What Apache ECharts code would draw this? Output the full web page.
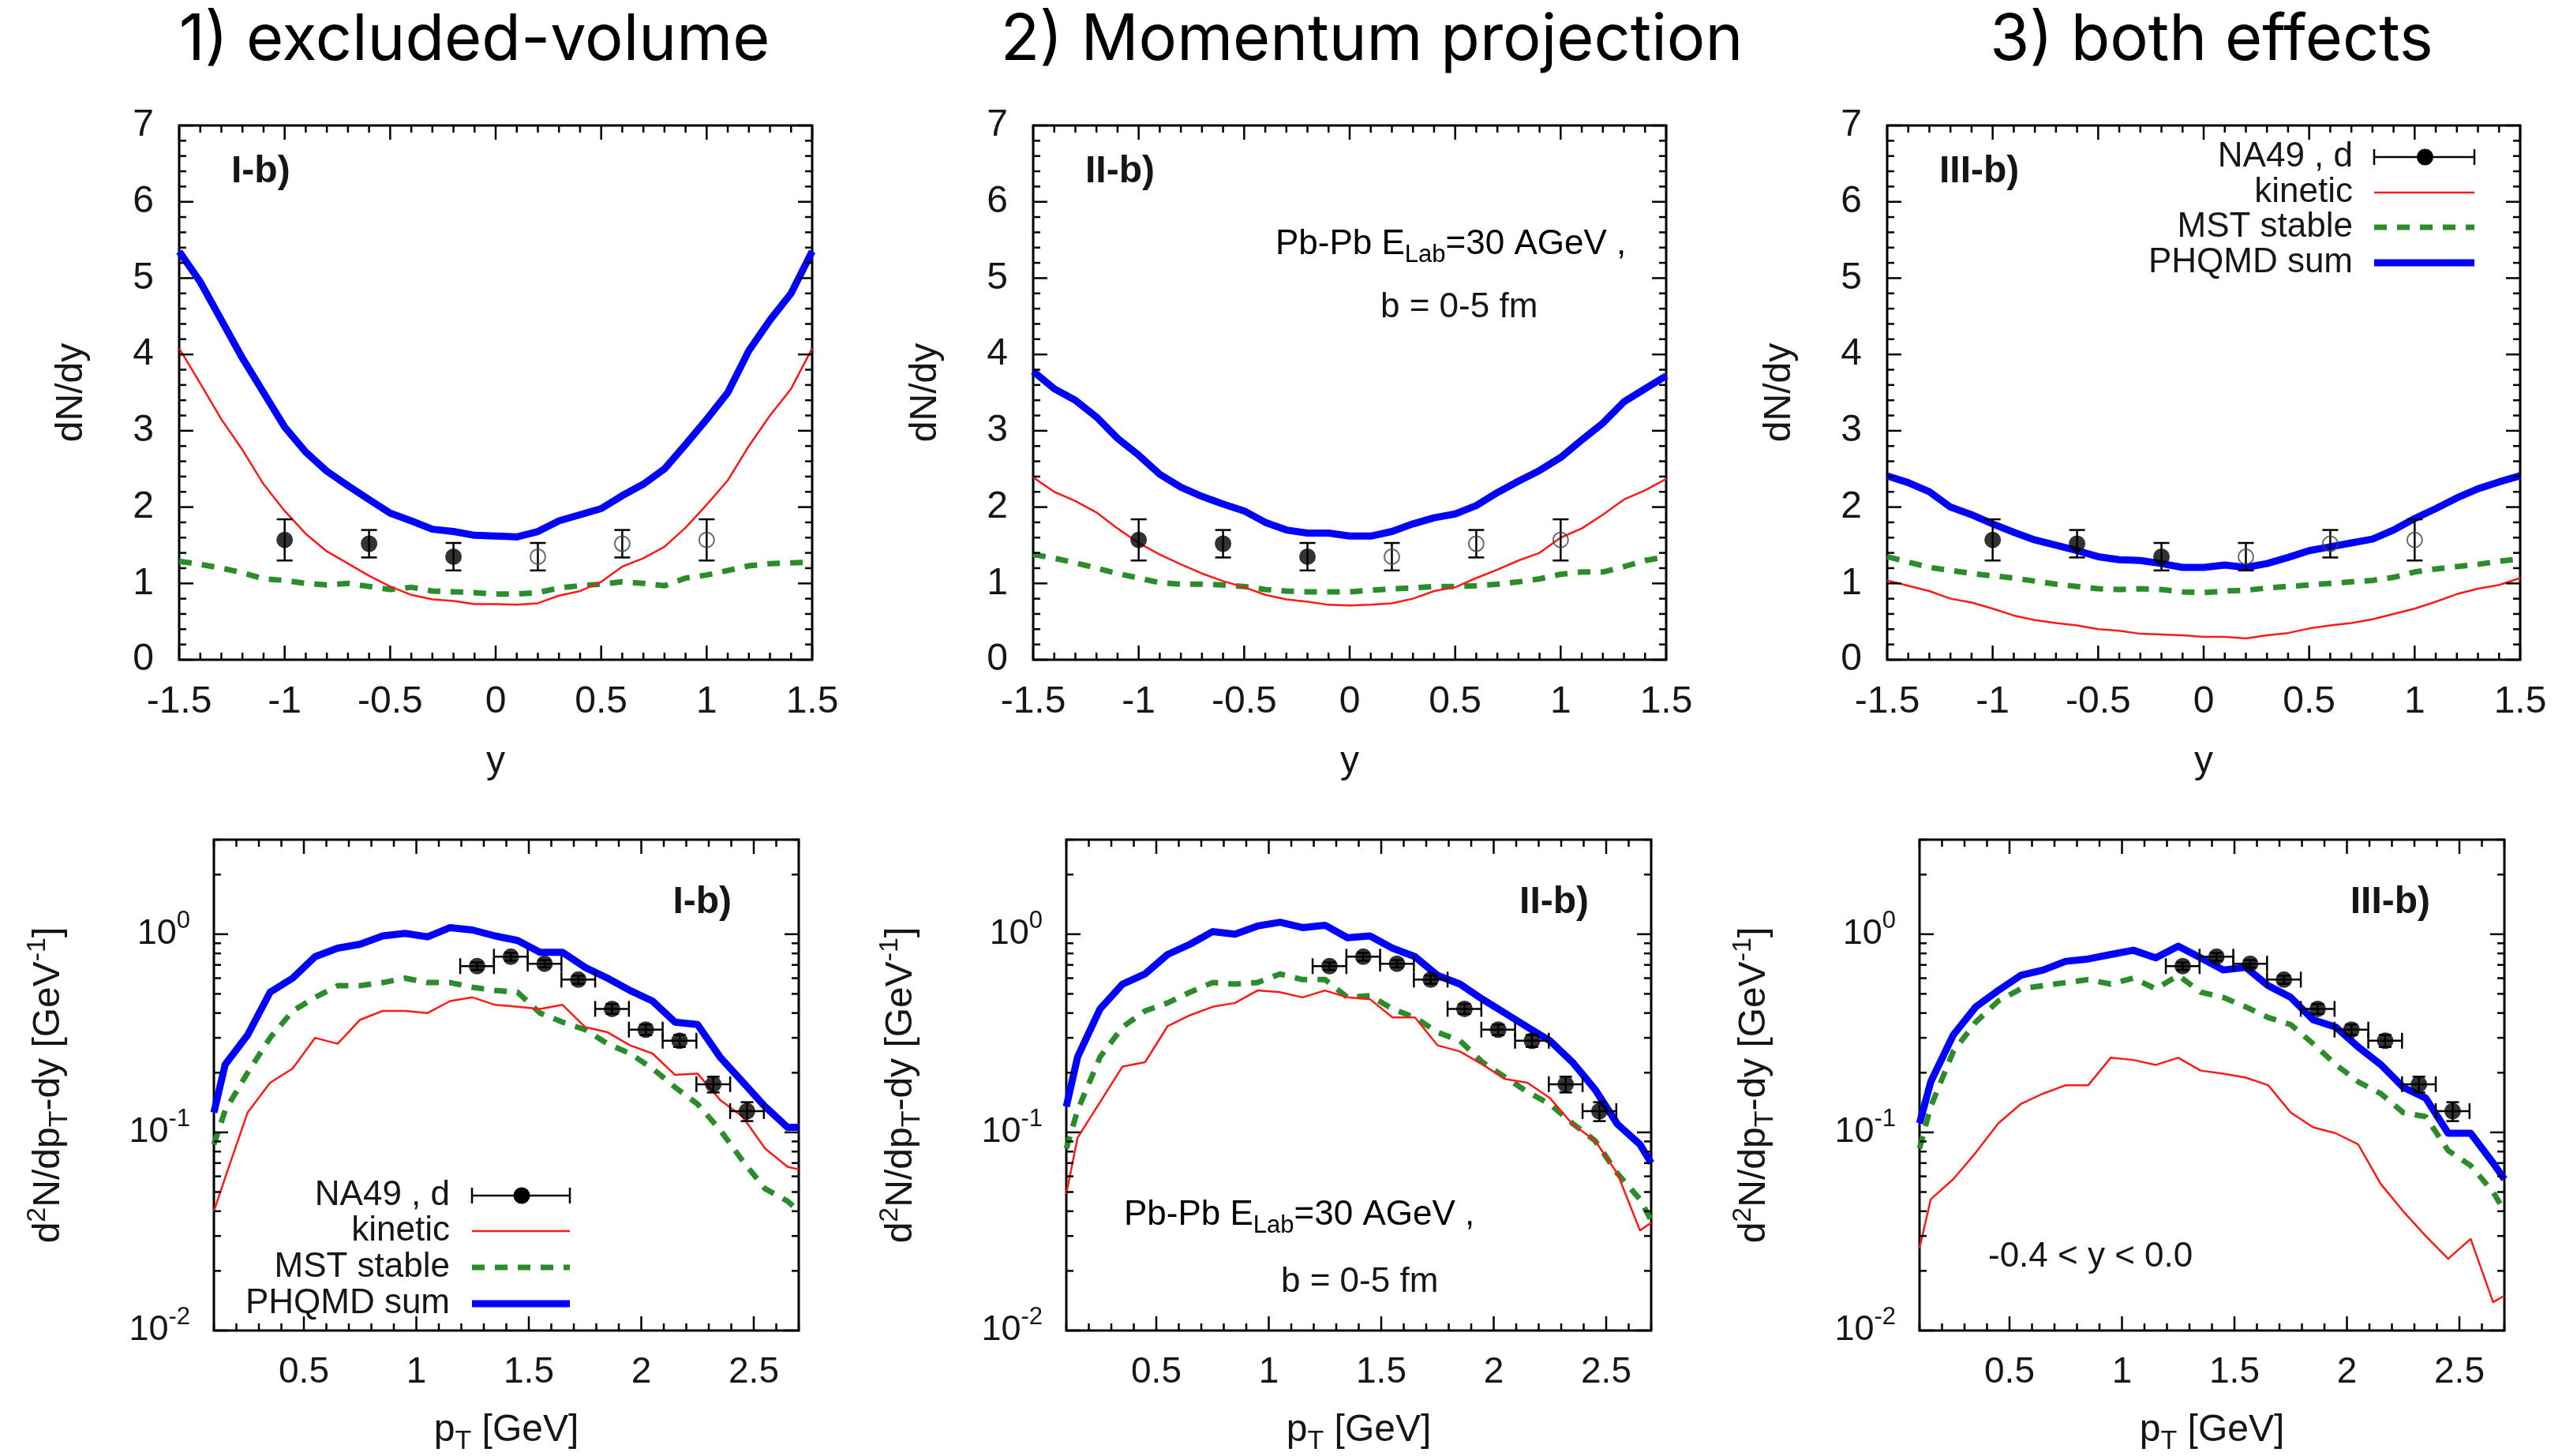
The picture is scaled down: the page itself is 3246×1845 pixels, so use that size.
<!DOCTYPE html>
<html>
<head>
<meta charset="utf-8">
<script src="https://cdn.jsdelivr.net/npm/echarts@6/dist/echarts.min.js"></script>
<style>
html, body { margin: 0; padding: 0; background: #fff; }
#chart { width: 3246px; height: 1845px; }
</style>
</head>
<body>
<div id="chart"></div>
<script>
// ---------- rapidity distributions dN/dy ----------
const rapidity = [-1.5,-1.4,-1.3,-1.2,-1.1,-1.0,-0.9,-0.8,-0.7,-0.6,-0.5,-0.4,-0.3,-0.2,-0.1,0.0,0.1,0.2,0.3,0.4,0.5,0.6,0.7,0.8,0.9,1.0,1.1,1.2,1.3,1.4,1.5];

// I-b) excluded volume
const dndySumI = [5.35,4.95,4.45,3.95,3.5,3.05,2.72,2.47,2.28,2.1,1.92,1.82,1.71,1.68,1.63,1.62,1.61,1.68,1.82,1.9,1.98,2.15,2.3,2.5,2.82,3.15,3.5,4.05,4.45,4.8,5.35];
const dndyKinI = [4.08,3.62,3.15,2.75,2.3,1.95,1.65,1.42,1.26,1.1,0.96,0.85,0.79,0.77,0.73,0.73,0.72,0.74,0.84,0.9,1.02,1.22,1.33,1.48,1.73,2.03,2.35,2.8,3.2,3.55,4.08];
const dndyMstI = [1.29,1.25,1.2,1.14,1.06,1.04,1.0,0.98,1.0,0.96,0.92,0.95,0.9,0.89,0.88,0.86,0.86,0.88,0.94,0.97,0.99,1.02,1.0,0.97,1.07,1.11,1.17,1.23,1.26,1.27,1.28];

// II-b) momentum projection
const dndySumII = [3.78,3.55,3.4,3.18,2.9,2.68,2.43,2.26,2.14,2.04,1.95,1.8,1.7,1.66,1.66,1.62,1.62,1.68,1.78,1.86,1.91,2.02,2.19,2.34,2.48,2.65,2.88,3.1,3.38,3.55,3.72];
const dndyKinII = [2.39,2.2,2.08,1.93,1.72,1.53,1.38,1.25,1.13,1.03,0.95,0.85,0.79,0.76,0.72,0.71,0.72,0.74,0.8,0.9,0.95,1.07,1.18,1.3,1.4,1.6,1.72,1.9,2.1,2.22,2.37];
const dndyMstII = [1.38,1.33,1.27,1.2,1.13,1.07,1.01,0.99,0.99,0.98,0.96,0.92,0.9,0.89,0.89,0.89,0.91,0.93,0.94,0.96,0.96,0.97,0.99,1.02,1.06,1.12,1.15,1.15,1.22,1.3,1.35];

// III-b) both effects
const dndySumIII = [2.41,2.32,2.2,2.0,1.9,1.78,1.67,1.57,1.5,1.43,1.35,1.31,1.3,1.26,1.21,1.21,1.24,1.21,1.26,1.34,1.43,1.48,1.53,1.58,1.7,1.85,1.98,2.12,2.24,2.33,2.41];
const dndyKinIII = [1.04,0.97,0.9,0.8,0.75,0.67,0.58,0.52,0.48,0.45,0.4,0.38,0.34,0.33,0.32,0.3,0.3,0.28,0.32,0.35,0.41,0.45,0.48,0.53,0.6,0.67,0.76,0.86,0.93,0.98,1.07];
const dndyMstIII = [1.35,1.28,1.21,1.17,1.13,1.1,1.07,1.03,0.99,0.96,0.93,0.92,0.93,0.92,0.89,0.88,0.9,0.91,0.94,0.96,0.98,1.0,1.02,1.04,1.08,1.15,1.19,1.22,1.25,1.29,1.32];

// NA49 deuterons: measured (filled) and reflected about y = 0 (open)
const na49Y = [-1.0, -0.6, -0.2];
const na49Dndy = [1.57, 1.52, 1.35];
const na49DndyErr = [0.27, 0.18, 0.18];
const na49YRefl = [0.2, 0.6, 1.0];
const na49DndyRefl = [1.35, 1.52, 1.57];
const na49DndyReflErr = [0.18, 0.18, 0.27];

// ---------- transverse momentum spectra d2N/dpT dy ----------
const pT = [0.1,0.15,0.25,0.35,0.45,0.55,0.65,0.75,0.85,0.95,1.05,1.15,1.25,1.35,1.45,1.55,1.65,1.75,1.85,1.95,2.05,2.15,2.25,2.35,2.45,2.55,2.65,2.7];

const ptSumI = [0.126,0.22,0.31,0.51,0.6,0.77,0.85,0.89,0.98,1.01,0.97,1.08,1.05,0.98,0.93,0.81,0.81,0.68,0.6,0.52,0.46,0.36,0.35,0.24,0.18,0.135,0.106,0.106];
const ptKinI = [0.04,0.059,0.126,0.178,0.21,0.3,0.28,0.37,0.41,0.41,0.4,0.46,0.48,0.44,0.43,0.42,0.44,0.34,0.32,0.275,0.25,0.195,0.198,0.146,0.12,0.083,0.067,0.065];
const ptMstI = [0.087,0.129,0.2,0.3,0.41,0.48,0.55,0.55,0.57,0.6,0.57,0.57,0.54,0.52,0.51,0.4,0.36,0.33,0.28,0.25,0.21,0.169,0.139,0.103,0.072,0.052,0.045,0.04];

const ptSumII = [0.135,0.24,0.42,0.56,0.63,0.79,0.89,1.03,1.0,1.1,1.15,1.08,1.11,0.96,0.98,0.85,0.77,0.62,0.56,0.47,0.4,0.34,0.29,0.226,0.165,0.11,0.087,0.07];
const ptKinII = [0.049,0.094,0.142,0.215,0.226,0.343,0.39,0.43,0.45,0.52,0.51,0.48,0.52,0.48,0.47,0.38,0.38,0.275,0.256,0.22,0.186,0.178,0.149,0.11,0.091,0.062,0.032,0.035];
const ptMstII = [0.083,0.129,0.24,0.34,0.41,0.45,0.51,0.57,0.56,0.57,0.63,0.59,0.59,0.48,0.49,0.42,0.38,0.32,0.29,0.226,0.19,0.16,0.139,0.111,0.091,0.062,0.046,0.036];

const ptSumIII = [0.111,0.18,0.31,0.43,0.52,0.62,0.66,0.73,0.75,0.79,0.83,0.76,0.87,0.76,0.66,0.68,0.55,0.48,0.37,0.34,0.27,0.22,0.169,0.149,0.099,0.099,0.07,0.058];
const ptKinIII = [0.026,0.046,0.058,0.079,0.111,0.139,0.157,0.173,0.173,0.238,0.232,0.219,0.238,0.205,0.198,0.189,0.173,0.126,0.106,0.099,0.087,0.055,0.04,0.03,0.023,0.029,0.0139,0.015];
const ptMstIII = [0.083,0.135,0.256,0.36,0.46,0.53,0.55,0.57,0.59,0.56,0.6,0.53,0.62,0.51,0.48,0.43,0.38,0.35,0.28,0.22,0.18,0.157,0.126,0.12,0.081,0.068,0.05,0.04];

// NA49 deuteron spectrum, -0.4 < y < 0.0
const na49Pt = [1.27, 1.42, 1.57, 1.72, 1.87, 2.02, 2.17, 2.32, 2.47];
const na49PtHalfBin = 0.075;
const na49Spec = [0.69, 0.77, 0.71, 0.59, 0.42, 0.33, 0.29, 0.175, 0.128];
const na49SpecErr = [0.03, 0.035, 0.03, 0.028, 0.024, 0.02, 0.02, 0.016, 0.014];

// ---------- tick labels ----------
const rapidityTickLabels = ['-1.5', '-1', '-0.5', '0', '0.5', '1', '1.5'];
const rapidityTickValues = [-1.5, -1, -0.5, 0, 0.5, 1, 1.5];
const ptTickLabels = ['0.5', '1', '1.5', '2', '2.5'];
const ptTickValues = [0.5, 1, 1.5, 2, 2.5];
const yieldDecades = [-2, -1, 0];

// ---------- styling ----------
const TXT = '#161616';
const FONT = 'Liberation Sans';
const TITLE_FONT = 'Inter';
const C_KIN = '#ff1a1a';
const C_MST = '#2c8c2c';
const C_SUM = '#0000ff';
const MST_DASH = [16, 13];

function rich(size) {
  return {
    m: { fontSize: size, fontFamily: FONT, color: TXT, lineHeight: Math.round(size * 1.3) },
    sub: { fontSize: Math.round(size * 0.7), fontFamily: FONT, color: TXT, verticalAlign: 'bottom', lineHeight: Math.round(size * 0.72) },
    sup: { fontSize: Math.round(size * 0.7), fontFamily: FONT, color: TXT, verticalAlign: 'top', lineHeight: Math.round(size * 0.72) }
  };
}

function zip(xs, ys) { return xs.map((x, i) => [x, ys[i]]); }

const topRects = [[227, 159], [1309, 159], [2391, 159]];
const TOP_W = 802, TOP_H = 677;
const botRects = [[271, 1064], [1351, 1064], [2432, 1064]];
const BOT_W = 741, BOT_H = 626;

const grids = [];
topRects.forEach(r => grids.push({ left: r[0], top: r[1], width: TOP_W, height: TOP_H, show: true, borderColor: '#000', borderWidth: 3, backgroundColor: 'transparent' }));
botRects.forEach(r => grids.push({ left: r[0], top: r[1], width: BOT_W, height: BOT_H, show: true, borderColor: '#000', borderWidth: 3, backgroundColor: 'transparent' }));

const xAxes = [], yAxes = [];
for (let i = 0; i < 3; i++) {
  xAxes.push({
    type: 'value', gridIndex: i, min: -1.5, max: 1.5, interval: 0.5,
    axisLine: { show: false }, axisTick: { show: false }, splitLine: { show: false },
    axisLabel: {
      fontSize: 48, fontFamily: FONT, color: TXT, margin: 30, showMinLabel: true, showMaxLabel: true,
      formatter: v => { const k = rapidityTickValues.findIndex(t => Math.abs(t - v) < 1e-6); return k < 0 ? '' : rapidityTickLabels[k]; }
    },
    name: 'y', nameLocation: 'middle', nameGap: 106,
    nameTextStyle: { fontSize: 48, fontFamily: FONT, color: TXT }
  });
  yAxes.push({
    type: 'value', gridIndex: i, min: 0, max: 7, interval: 1,
    axisLine: { show: false }, axisTick: { show: false }, splitLine: { show: false },
    axisLabel: { fontSize: 48, fontFamily: FONT, color: TXT, margin: 32 },
    name: 'dN/dy', nameLocation: 'middle', nameGap: 112,
    nameTextStyle: { fontSize: 48, fontFamily: FONT, color: TXT }
  });
}
for (let i = 3; i < 6; i++) {
  xAxes.push({
    type: 'value', gridIndex: i, min: 0.1, max: 2.7, interval: 0.1,
    axisLine: { show: false }, axisTick: { show: false }, splitLine: { show: false },
    axisLabel: {
      fontSize: 46, fontFamily: FONT, color: TXT, margin: 30,
      formatter: v => { const k = ptTickValues.findIndex(t => Math.abs(t - v) < 1e-6); return k < 0 ? '' : ptTickLabels[k]; }
    },
    name: '{m|p}{sub|T}{m| [GeV]}', nameLocation: 'middle', nameGap: 96,
    nameTextStyle: { rich: rich(48) }
  });
  yAxes.push({
    type: 'log', logBase: 10, gridIndex: i, min: 0.01, max: 3,
    axisLine: { show: false }, axisTick: { show: false }, splitLine: { show: false },
    axisLabel: {
      margin: 30,
      formatter: v => {
        const e = Math.log10(v), r = Math.round(e);
        if (Math.abs(e - r) > 1e-6 || yieldDecades.indexOf(r) < 0) return '';
        return '{b|10}{s|' + r + '}';
      },
      rich: {
        b: { fontSize: 45, fontFamily: FONT, color: TXT, lineHeight: 64 },
        s: { fontSize: 31, fontFamily: FONT, color: TXT, verticalAlign: 'top', lineHeight: 34 }
      }
    },
    name: '{m|d}{sup|2}{m|N/dp}{sub|T}{m|-dy [GeV}{sup|-1}{m|]}', nameLocation: 'middle', nameGap: 178,
    nameTextStyle: { rich: rich(48) }
  });
}

// inward ticks on all four frame sides, placed through the axis scales
function tickSeries(idx, xTicks, yTicks, xRef, yRef) {
  const data = [];
  xTicks.forEach(t => data.push([t[0], yRef, 0, t[1]]));
  yTicks.forEach(t => data.push([xRef, t[0], 1, t[1]]));
  return {
    type: 'custom', xAxisIndex: idx, yAxisIndex: idx, silent: true, clip: false, z: 6, data,
    renderItem(params, api) {
      const cs = params.coordSys;
      const len = api.value(3) ? 18 : 9;
      const style = { stroke: '#000', lineWidth: 2.5 };
      if (api.value(2) === 0) {
        const x = api.coord([api.value(0), api.value(1)])[0];
        const b = cs.y + cs.height;
        return { type: 'group', children: [
          { type: 'line', shape: { x1: x, y1: b, x2: x, y2: b - len }, style },
          { type: 'line', shape: { x1: x, y1: cs.y, x2: x, y2: cs.y + len }, style }
        ] };
      }
      const y = api.coord([api.value(0), api.value(1)])[1];
      const r = cs.x + cs.width;
      return { type: 'group', children: [
        { type: 'line', shape: { x1: cs.x, y1: y, x2: cs.x + len, y2: y }, style },
        { type: 'line', shape: { x1: r, y1: y, x2: r - len, y2: y }, style }
      ] };
    }
  };
}

const rapTicks = [], dndyTicks = [], ptTicks = [], logTicks = [];
for (let k = -15; k <= 15; k++) rapTicks.push([k / 10, k % 5 === 0 ? 1 : 0]);
for (let k = 0; k <= 35; k++) dndyTicks.push([k / 5, k % 5 === 0 ? 1 : 0]);
for (let k = 1; k <= 27; k++) ptTicks.push([k / 10, k % 5 === 0 ? 1 : 0]);
yieldDecades.forEach(e => { for (let m = 1; m <= 9; m++) { const v = m * Math.pow(10, e); if (v <= 3.0001) logTicks.push([v, m === 1 ? 1 : 0]); } });

function line(idx, xs, ys, color, width, dash, z) {
  return {
    type: 'line', xAxisIndex: idx, yAxisIndex: idx, data: zip(xs, ys), symbol: 'none', silent: true, z,
    lineStyle: { color, width, type: dash || 'solid', cap: 'butt', join: 'round' }
  };
}

function yErrBars(idx, xs, ys, errs) {
  return {
    type: 'custom', xAxisIndex: idx, yAxisIndex: idx, silent: true, z: 4,
    data: xs.map((x, i) => [x, ys[i], ys[i] - errs[i], ys[i] + errs[i]]),
    renderItem(params, api) {
      const lo = api.coord([api.value(0), api.value(2)]);
      const hi = api.coord([api.value(0), api.value(3)]);
      const style = { stroke: '#000', lineWidth: 2.5 };
      const w = 10;
      return { type: 'group', children: [
        { type: 'line', shape: { x1: lo[0], y1: lo[1], x2: hi[0], y2: hi[1] }, style },
        { type: 'line', shape: { x1: lo[0] - w, y1: lo[1], x2: lo[0] + w, y2: lo[1] }, style },
        { type: 'line', shape: { x1: hi[0] - w, y1: hi[1], x2: hi[0] + w, y2: hi[1] }, style }
      ] };
    }
  };
}

function xyErrBars(idx, xs, ys, xerr, yerrs) {
  return {
    type: 'custom', xAxisIndex: idx, yAxisIndex: idx, silent: true, z: 4,
    data: xs.map((x, i) => [x, ys[i], x - xerr, x + xerr, ys[i] - yerrs[i], ys[i] + yerrs[i]]),
    renderItem(params, api) {
      const l = api.coord([api.value(2), api.value(1)]);
      const r = api.coord([api.value(3), api.value(1)]);
      const lo = api.coord([api.value(0), api.value(4)]);
      const hi = api.coord([api.value(0), api.value(5)]);
      const style = { stroke: '#000', lineWidth: 2.5 };
      const c = 10, w = 8;
      return { type: 'group', children: [
        { type: 'line', shape: { x1: l[0], y1: l[1], x2: r[0], y2: r[1] }, style },
        { type: 'line', shape: { x1: l[0], y1: l[1] - c, x2: l[0], y2: l[1] + c }, style },
        { type: 'line', shape: { x1: r[0], y1: r[1] - c, x2: r[0], y2: r[1] + c }, style },
        { type: 'line', shape: { x1: lo[0], y1: lo[1], x2: hi[0], y2: hi[1] }, style },
        { type: 'line', shape: { x1: lo[0] - w, y1: lo[1], x2: lo[0] + w, y2: lo[1] }, style },
        { type: 'line', shape: { x1: hi[0] - w, y1: hi[1], x2: hi[0] + w, y2: hi[1] }, style }
      ] };
    }
  };
}

function dots(idx, xs, ys, open) {
  return {
    type: 'scatter', xAxisIndex: idx, yAxisIndex: idx, data: zip(xs, ys), silent: true, z: 5,
    symbol: 'circle', symbolSize: open ? 19 : 21,
    itemStyle: open ? { color: 'rgba(0,0,0,0)', borderColor: '#444', borderWidth: 2 } : { color: '#000' }
  };
}

const rapidityPanels = [
  [dndySumI, dndyKinI, dndyMstI],
  [dndySumII, dndyKinII, dndyMstII],
  [dndySumIII, dndyKinIII, dndyMstIII]
];
const spectrumPanels = [
  [ptSumI, ptKinI, ptMstI],
  [ptSumII, ptKinII, ptMstII],
  [ptSumIII, ptKinIII, ptMstIII]
];

const series = [];
rapidityPanels.forEach((p, i) => {
  series.push(line(i, rapidity, p[0], C_SUM, 9, null, 2));
  series.push(line(i, rapidity, p[2], C_MST, 7, MST_DASH, 2));
  series.push(line(i, rapidity, p[1], C_KIN, 2.5, null, 3));
  series.push(yErrBars(i, na49Y, na49Dndy, na49DndyErr));
  series.push(yErrBars(i, na49YRefl, na49DndyRefl, na49DndyReflErr));
  series.push(dots(i, na49Y, na49Dndy, false));
  series.push(dots(i, na49YRefl, na49DndyRefl, true));
  series.push(tickSeries(i, rapTicks, dndyTicks, 0, 1));
});
spectrumPanels.forEach((p, j) => {
  const i = j + 3;
  series.push(line(i, pT, p[0], C_SUM, 9, null, 2));
  series.push(line(i, pT, p[2], C_MST, 7, MST_DASH, 2));
  series.push(line(i, pT, p[1], C_KIN, 2.5, null, 3));
  series.push(xyErrBars(i, na49Pt, na49Spec, na49PtHalfBin, na49SpecErr));
  series.push(dots(i, na49Pt, na49Spec, false));
  series.push(tickSeries(i, ptTicks, logTicks, 1, 1));
});

// ---------- text annotations and keys ----------
function txt(x, y, text, size, align) {
  return {
    type: 'text', x, y, silent: true, z: 10,
    style: { text, fontSize: size, fontFamily: FONT, fill: TXT, align: align || 'left', verticalAlign: 'middle' }
  };
}
function richTxt(x, y, text, size, align) {
  return { type: 'text', x, y, silent: true, z: 10,
    style: { text, rich: rich(size), align: align || 'left', verticalAlign: 'middle' } };
}
function seg(x1, y1, x2, y2, color, width, dash) {
  return { type: 'line', silent: true, z: 10, shape: { x1, y1, x2, y2 },
    style: { stroke: color, lineWidth: width, lineDash: dash || null, lineCap: 'butt' } };
}
function key(xText, x1, x2, rows) {
  const xm = (x1 + x2) / 2 + 1;
  return [
    txt(xText, rows[0], 'NA49 , d', 44, 'right'),
    txt(xText, rows[1], 'kinetic', 44, 'right'),
    txt(xText, rows[2], 'MST stable', 44, 'right'),
    txt(xText, rows[3], 'PHQMD sum', 44, 'right'),
    seg(x1, rows[0], x2, rows[0], '#000', 2.5),
    seg(x1, rows[0] - 10, x1, rows[0] + 10, '#000', 2.5),
    seg(x2, rows[0] - 10, x2, rows[0] + 10, '#000', 2.5),
    { type: 'circle', silent: true, z: 11, shape: { cx: xm, cy: rows[0], r: 10.5 }, style: { fill: '#000' } },
    seg(x1, rows[1], x2, rows[1], C_KIN, 2.5),
    seg(x1, rows[2], x2, rows[2], C_MST, 7, MST_DASH),
    seg(x1, rows[3], x2, rows[3], C_SUM, 9)
  ];
}
function panelTag(x, y, text, align) {
  return { type: 'text', x, y, silent: true, z: 10,
    style: { text, fontSize: 48, fontWeight: 'bold', fontFamily: FONT, fill: TXT, align, verticalAlign: 'middle' } };
}

const titleStyle = { fontSize: 81, fontFamily: TITLE_FONT, fill: '#000', align: 'center', verticalAlign: 'middle' };
const graphic = [
  { type: 'text', x: 601, y: 52, silent: true, style: Object.assign({ text: '1) excluded-volume' }, titleStyle) },
  { type: 'text', x: 1738, y: 52, silent: true, style: Object.assign({ text: '2) Momentum projection' }, titleStyle) },
  { type: 'text', x: 2802, y: 52, silent: true, style: Object.assign({ text: '3) both effects' }, titleStyle) },

  panelTag(293, 218, 'I-b)', 'left'),
  panelTag(1375, 218, 'II-b)', 'left'),
  panelTag(2457, 218, 'III-b)', 'left'),
  panelTag(927, 1144, 'I-b)', 'right'),
  panelTag(2013, 1144, 'II-b)', 'right'),
  panelTag(3079, 1144, 'III-b)', 'right'),

  richTxt(1616, 310, '{m|Pb-Pb E}{sub|Lab}{m|=30 AGeV ,}', 44),
  txt(1749, 390, 'b = 0-5 fm', 44),
  richTxt(1424, 1540, '{m|Pb-Pb E}{sub|Lab}{m|=30 AGeV ,}', 44),
  txt(1623, 1625, 'b = 0-5 fm', 44),
  txt(2519, 1593, '-0.4 < y < 0.0', 44)
].concat(key(2981, 3008, 3135, [199, 244, 288, 333]))
 .concat(key(570, 598, 722, [1515, 1560, 1606, 1652]));

const chart = echarts.init(document.getElementById('chart'), null, { renderer: 'canvas' });
chart.setOption({
  backgroundColor: '#fff',
  animation: false,
  grid: grids,
  xAxis: xAxes,
  yAxis: yAxes,
  series,
  graphic
});
</script>
</body>
</html>
